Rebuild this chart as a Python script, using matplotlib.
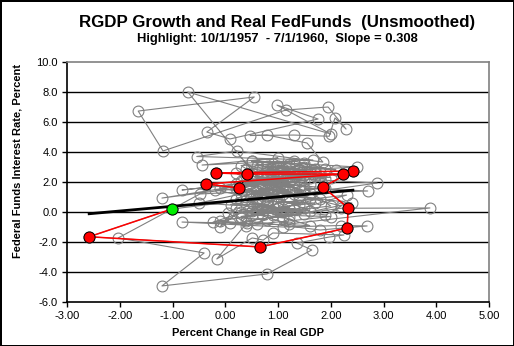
import numpy as np
import matplotlib.pyplot as plt

plt.rcParams['font.family'] = ['Liberation Sans', 'DejaVu Sans']

# quarterly real GDP growth (x) vs real fed funds rate (y), full sample
pre = [(0.3, -0.3), (1.1, 0.2), (1.9, -0.2), (2.2, 0.4), (1.4, 1.1), (0.9, 1.5),
       (0.5, 1.3), (1.6, 0.9), (0.2, 1.9), (0.8, 1.1), (-0.1, 1.6), (1.0, 2.0),
       (0.4, 0.8)]

# highlighted period 10/1/1957 - 7/1/1960
hl_gdp = [-1.01, -2.58, 0.66, 2.31, 2.33, 1.85, 2.42, -0.18, 0.41, 2.23, -0.36, 0.26]
hl_ffr = [0.20, -1.65, -2.33, -1.07, 0.27, 1.67, 2.73, 2.60, 2.53, 2.53, 1.87, 1.60]

post = [(-1.2, 0.93), (0.9, 2.1), (-0.82, 1.47), (1.7, 2.4), (1.9, 2.2), (1.0, 2.6),
        (1.7, 2.9), (0.6, 2.7), (2.0, 2.3), (1.1, 2.5), (0.8, 3.1), (1.6, 2.7),
        (1.3, 2.4), (0.9, 2.6), (1.5, 3.0), (2.1, 2.8), (1.2, 3.2), (0.5, 3.4),
        (2.5, 3.0), (1.4, 2.8), (0.9, 3.2), (0.3, 3.1), (0.7, 2.2), (1.1, 2.1),
        (0.2, 1.6), (1.2, 1.0), (0.7, 1.8), (1.5, 2.1), (0.4, 2.4), (2.88, 1.93),
        (1.6, 1.3), (0.6, 0.8), (1.2, 1.5), (-0.48, 1.2), (-2.03, -1.73), (-0.4, -2.73),
        (-1.2, -4.93), (0.79, -4.13), (1.64, -2.53), (1.36, -2.07), (1.97, -1.67),
        (2.25, -1.53), (0.9, -1.4), (0.72, -1.87), (0.51, -1.73), (-0.16, -3.13),
        (0.41, -0.73), (0.05, -0.07), (0.8, 0.5), (-0.23, -0.67), (1.5, 0.3),
        (2.3, 1.13), (1.0, 0.6), (1.8, 0.9), (0.5, -0.2), (2.0, 0.4), (1.5, 1.6),
        (2.7, 1.4), (1.1, 1.2), (2.4, 0.6), (1.2, -0.3), (0.6, 0.2), (1.6, -0.9),
        (0.09, -0.73), (-0.82, -0.67), (1.1, -1.0), (2.2, -0.9), (2.69, -0.93),
        (1.8, -1.2), (0.4, -0.6), (2.2, 0.25), (3.88, 0.27), (1.2, -0.8), (0.2, 0.3),
        (-0.1, -1.0), (0.8, 1.5), (-0.71, 8.0), (2.0, 5.2), (0.98, 7.13), (1.76, 6.2),
        (0.09, 4.87), (-0.35, 5.33), (0.55, 7.67), (-1.65, 6.73), (-1.18, 4.07),
        (1.15, 6.8), (1.95, 7.0), (2.29, 5.53), (2.08, 6.27), (1.97, 5.05), (1.3, 5.13),
        (0.47, 5.1), (0.79, 5.13), (1.55, 4.6), (1.85, 3.33), (0.22, 4.07), (-0.54, 3.7),
        (1.66, 3.47), (-0.44, 3.13), (1.0, 3.6), (0.5, 3.4), (0.9, 2.8), (1.2, 3.0),
        (0.4, 2.9), (1.5, 2.5), (0.7, 1.9), (1.1, 2.3), (0.3, 2.1), (1.3, 1.8),
        (0.6, 1.4), (1.0, 1.7), (0.2, 0.9), (0.9, 0.4), (0.5, 0.1), (1.2, 0.3),
        (0.7, -0.1), (1.0, 0.7), (1.4, 0.5), (0.8, 1.0), (1.6, 1.9), (1.2, 2.0),
        (0.9, 2.4), (1.5, 3.3), (1.7, 2.6), (1.1, 2.9), (0.6, 3.1), (1.3, 3.4),
        (1.9, 2.9), (1.0, 3.1), (1.4, 2.2), (0.7, 2.5), (1.8, 2.4), (0.5, 2.2),
        (1.2, 1.4), (-0.2, 1.5), (0.4, 1.0), (0.9, 0.9), (0.1, 0.5), (0.6, 0.5),
        (1.1, 0.1), (0.3, -0.4), (0.8, -0.5), (0.4, -0.9), (-0.1, -0.6), (0.6, -0.8),
        (1.2, -0.6), (2.0, -0.3), (0.9, -0.2), (1.5, -0.1), (0.7, 0.3), (1.3, 0.2),
        (-0.5, 0.6), (0.3, 1.2), (1.4, 1.0), (0.8, 2.0), (1.9, 1.6), (1.0, 1.3),
        (1.3, 2.6), (0.7, 2.9), (1.6, 2.3), (1.0, 2.2), (1.8, 2.7), (0.4, 1.7),
        (1.1, 1.8), (1.5, 1.4), (0.6, 2.4), (1.3, 1.2), (0.8, 0.7), (1.7, 0.6),
        (1.0, 0.3), (0.5, 0.6), (1.4, 2.9), (0.9, 1.2), (0.2, 2.6), (1.2, 2.7),
        (0.7, 1.3), (1.6, 0.1), (0.3, 0.0), (1.1, -0.4), (0.8, 2.3), (1.4, 1.7)]

all_gdp = [p[0] for p in pre] + hl_gdp + [p[0] for p in post]
all_ffr = [p[1] for p in pre] + hl_ffr + [p[1] for p in post]

W, H = 514, 346
fig = plt.figure(figsize=(W / 100, H / 100), dpi=100)
fig.patch.set_edgecolor('black')
fig.patch.set_linewidth(2)
ax = fig.add_axes([67 / W, 1 - 302 / H, (489 - 67) / W, (302 - 62) / H])

for yv in range(-4, 10, 2):
    ax.axhline(yv, color='black', lw=1.0, zorder=1)

ax.plot(all_gdp, all_ffr, color='#808080', lw=0.8, marker='o', ms=7.8,
        mfc='none', mec='#808080', mew=0.8, zorder=2)

# regression over the highlighted quarters
slope, icpt = np.polyfit(hl_gdp, hl_ffr, 1)
xs = np.array([min(hl_gdp), max(hl_gdp)])
ax.plot(xs, icpt + slope * xs, color='black', lw=2, zorder=3)

ax.plot(hl_gdp, hl_ffr, color='red', lw=1.1, zorder=4)
ax.plot(hl_gdp[1:], hl_ffr[1:], ls='none', marker='o', ms=8, mfc='red',
        mec='black', mew=0.7, zorder=5)
ax.plot(hl_gdp[:1], hl_ffr[:1], ls='none', marker='o', ms=8, mfc='#00ee00',
        mec='black', mew=0.7, zorder=6)

ax.set_xlim(-3, 5)
ax.set_ylim(-6, 10)
ax.set_xticks(np.arange(-3, 5.01, 1))
ax.set_yticks(np.arange(-6, 10.01, 2))
ax.set_xticklabels([f"{v:.2f}" for v in np.arange(-3, 5.01, 1)])
ax.set_yticklabels([f"{v:.1f}" for v in np.arange(-6, 10.01, 2)])
ax.tick_params(direction='out', length=3.5, width=1, labelsize=8, pad=3, color='black')
for s in ['left', 'bottom']:
    ax.spines[s].set_color('black')
    ax.spines[s].set_linewidth(1.2)
for s in ['top', 'right']:
    ax.spines[s].set_color('#808080')
    ax.spines[s].set_linewidth(1.2)

fig.text(277 / W, 1 - 22 / H, "RGDP Growth and Real FedFunds  (Unsmoothed)",
         ha='center', va='center', fontsize=12.2, fontweight='bold')
fig.text(277 / W, 1 - 39 / H, "Highlight: 10/1/1957  - 7/1/1960,  Slope = 0.308",
         ha='center', va='center', fontsize=9.4, fontweight='bold')
fig.text(248 / W, 1 - 333 / H, "Percent Change in Real GDP",
         ha='center', va='center', fontsize=8, fontweight='bold')
fig.text(18 / W, 1 - 161 / H, "Federal Funds Interest Rate, Percent",
         ha='center', va='center', rotation=90, fontsize=8, fontweight='bold')

fig.savefig("out.png", dpi=100)
